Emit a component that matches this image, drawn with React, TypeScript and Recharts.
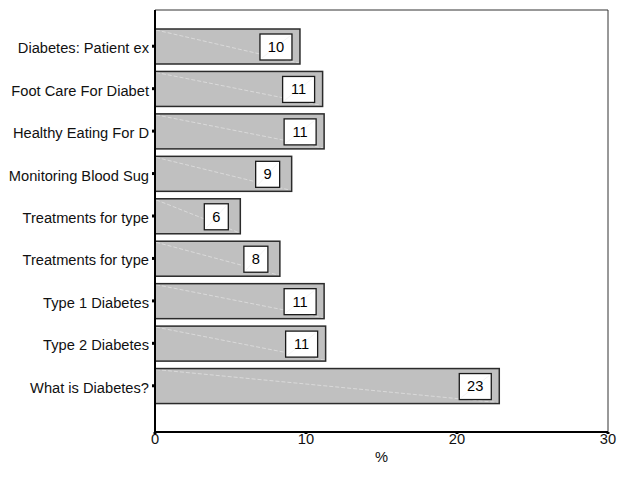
import React from 'react';
import { BarChart, Bar, XAxis, YAxis, LabelList, CartesianGrid } from 'recharts';

// Share of visits per diabetes topic page (%)
const topics = [
  'Diabetes: Patient ex',
  'Foot Care For Diabet',
  'Healthy Eating For D',
  'Monitoring Blood Sug',
  'Treatments for type ',
  'Treatments for type  ',
  'Type 1 Diabetes',
  'Type 2 Diabetes',
  'What is Diabetes?',
];
const percents = [9.6, 11.1, 11.2, 9.05, 5.65, 8.27, 11.2, 11.3, 22.8];
const xTicks = [0, 10, 20, 30];

const data = topics.map((name, i) => ({ name, value: percents[i] }));

const FONT = 'Liberation Sans, Arial, Helvetica, sans-serif';
const FS = 14.67;

const BarShape = (props: any) => {
  const { x, y, width, height } = props;
  if (width <= 0) return null;
  return (
    <g>
      <rect x={x} y={y} width={width} height={height} fill="#c0c0c0" />
      <line
        x1={x + 1}
        y1={y + 1}
        x2={x + width - 1}
        y2={y + height - 1}
        stroke="#e4e4e4"
        strokeWidth={0.7}
        strokeDasharray="4 2"
      />
      <rect x={x} y={y} width={width} height={height} fill="none" stroke="#2b2b2b" strokeWidth={1.5} />
    </g>
  );
};

const ValueBox = (props: any) => {
  const { x, y, width, value } = props;
  const text = String(Math.round(Number(value)));
  const bw = text.length > 1 ? 32 : 24;
  const bh = 26;
  const cx = x + width - 24;
  const top = y + 5;
  return (
    <g>
      <rect x={cx - bw / 2} y={top} width={bw} height={bh} fill="#ffffff" stroke="#1a1a1a" strokeWidth={1.3} />
      <line x1={cx - bw / 2 + 2} y1={top + bh - 2} x2={cx + bw / 2 - 2} y2={top + 2} stroke="#ececec" strokeWidth={0.6} />
      <text
        x={cx}
        y={top + bh / 2 + 1}
        textAnchor="middle"
        dominantBaseline="middle"
        fontFamily={FONT}
        fontSize={FS}
        fill="#000"
      >
        {text}
      </text>
    </g>
  );
};

const YTick = (props: any) => {
  const { x, y, payload } = props;
  return (
    <text x={x - 1} y={y} dy={7} textAnchor="end" fontFamily={FONT} fontSize={FS} fill="#111">
      {String(payload.value).trimEnd()}
    </text>
  );
};

// frame lines along the top and right edges of the plot area
const topEdge = ({ offset }: any) => [offset.top];
const rightEdge = ({ offset }: any) => [offset.left + offset.width];

export default function App() {
  return (
    <div style={{ position: 'absolute', left: 0, top: 0, background: '#fff' }}>
      <BarChart
        width={625}
        height={492}
        data={data}
        layout="vertical"
        barSize={35}
        margin={{ top: 10, right: 17, bottom: 30, left: 0 }}
      >
        <CartesianGrid
          stroke="#333"
          strokeWidth={1}
          horizontalCoordinatesGenerator={topEdge}
          verticalCoordinatesGenerator={rightEdge}
        />
        <XAxis
          type="number"
          domain={[0, 30]}
          ticks={xTicks}
          height={30}
          axisLine={{ stroke: '#000', strokeWidth: 2 }}
          tickLine={{ stroke: '#000', strokeWidth: 3 }}
          tickSize={2}
          tick={{ fontFamily: FONT, fontSize: FS, fill: '#111', dy: -2 }}
          label={{ value: '%', position: 'insideBottom', offset: 0, style: { fontFamily: FONT, fontSize: FS, fill: '#111' } }}
        />
        <YAxis
          type="category"
          dataKey="name"
          width={155}
          padding={{ top: 15, bottom: 25 }}
          axisLine={{ stroke: '#000', strokeWidth: 2 }}
          tickLine={{ stroke: '#000', strokeWidth: 3 }}
          tickSize={3}
          tick={<YTick />}
          interval={0}
        />
        <Bar dataKey="value" shape={<BarShape />} isAnimationActive={false}>
          <LabelList dataKey="value" content={<ValueBox />} />
        </Bar>
      </BarChart>
    </div>
  );
}
